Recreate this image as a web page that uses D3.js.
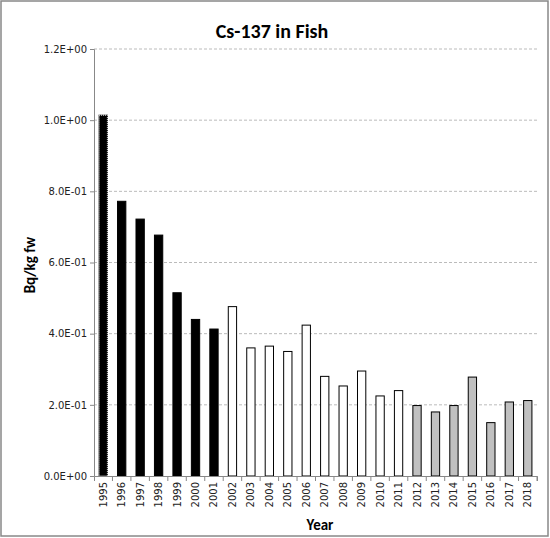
<!DOCTYPE html><html><head><script src="https://cdn.jsdelivr.net/npm/d3@7"></script>
<style>body{margin:0;background:#fff}</style></head><body><svg id="c" width="550" height="538"></svg><script>
const years=["1995","1996","1997","1998","1999","2000","2001","2002","2003","2004","2005","2006","2007","2008","2009","2010","2011","2012","2013","2014","2015","2016","2017","2018"];
const values=[1.014,0.772,0.722,0.677,0.515,0.44,0.413,0.476,0.36,0.365,0.35,0.424,0.28,0.253,0.295,0.225,0.24,0.198,0.18,0.198,0.278,0.15,0.208,0.212];
const groups=["a","a","a","a","a","a","a","b","b","b","b","b","b","b","b","b","b","c","c","c","c","c","c","c"];
const yTicks=[0,0.2,0.4,0.6,0.8,1.0,1.2];
const svg=d3.select("#c");
svg.append("rect").attr("x",1).attr("y",1).attr("width",547).attr("height",535).attr("fill","#fff").attr("stroke","#888").attr("stroke-width",1.5);
const L=94,R=537,T=49,B=476;
const x=d3.scaleBand().domain(years).range([L,R]).paddingInner(0.55).paddingOuter(0.275);
const y=d3.scaleLinear().domain([0,1.2]).range([B,T]);
const fmt=v=>{const s=v.toExponential(1).toUpperCase();return s.replace(/E([+-])(\d)$/,"E$10$2");};
svg.append("g").selectAll("line").data(yTicks.slice(1)).join("line").attr("x1",L).attr("x2",R).attr("y1",d=>y(d)).attr("y2",d=>y(d)).attr("stroke","#bbb").attr("stroke-dasharray","3,2");
const ya=svg.append("g").attr("transform",`translate(${L},0)`).call(d3.axisLeft(y).tickValues(yTicks).tickFormat(fmt).tickSize(4));
ya.selectAll("text").attr("font-family","Verdana, DejaVu Sans").attr("font-size",10).attr("fill","#222");
ya.selectAll("path,line").attr("stroke","#888");
const fill={a:"#000",b:"#fff",c:"#c0c0c0"};
svg.append("g").selectAll("rect").data(years).join("rect").attr("x",d=>x(d)).attr("width",x.bandwidth()).attr("y",(d,i)=>y(values[i])).attr("height",(d,i)=>B-y(values[i])).attr("fill",(d,i)=>fill[groups[i]]).attr("stroke","#000").attr("stroke-width",1);
svg.append("rect").attr("x",x("1995")).attr("width",x.bandwidth()).attr("y",y(values[0])).attr("height",B-y(values[0])).attr("fill","none").attr("stroke","#fff").attr("stroke-dasharray","1,1").attr("stroke-width",1);
const xa=svg.append("g").attr("transform",`translate(0,${B})`).call(d3.axisBottom(x).tickSize(5));
xa.selectAll("path,line").attr("stroke","#888");
xa.selectAll(".tick line").attr("transform",`translate(${x.step()/2},0)`);
xa.selectAll("text").attr("font-family","Verdana, DejaVu Sans").attr("font-size",10).attr("fill","#222").attr("transform","rotate(-90)").attr("text-anchor","end").attr("x",-6).attr("y",0).attr("dy","0.35em");
svg.append("text").attr("x",272).attr("y",38).attr("text-anchor","middle").attr("font-family","Calibri, Liberation Sans, Arial").attr("font-weight","bold").attr("font-size",20).text("Cs-137 in Fish");
svg.append("text").attr("x",320).attr("y",530).attr("text-anchor","middle").attr("font-family","Calibri, Liberation Sans, Arial").attr("font-weight","bold").attr("font-size",15).text("Year");
svg.append("text").attr("transform","translate(35,265) rotate(-90)").attr("text-anchor","middle").attr("font-family","Calibri, Liberation Sans, Arial").attr("font-weight","bold").attr("font-size",15).text("Bq/kg fw");
</script></body></html>
